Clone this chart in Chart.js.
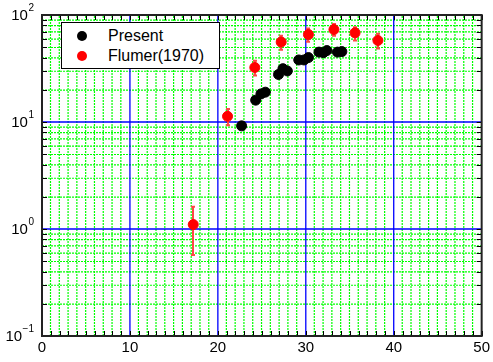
<!DOCTYPE html>
<html>
<head>
<meta charset="utf-8">
<script src="https://cdn.jsdelivr.net/npm/chart.js@4"></script>
<style>
  html, body { margin:0; padding:0; background:#fff; }
  #wrap { position:relative; width:493px; height:362px; }
  #legend { position:absolute; left:61px; top:22px; width:157px; height:45px; background:#fff; border:1px solid #000;
    font-family:"Liberation Sans", Arial, sans-serif; font-size:16px; color:#000; }
  #legend div { position:absolute; left:46px; line-height:20px; }
  #legend span { position:absolute; left:-31px; top:5px; width:10px; height:10px; border-radius:50%; }
</style>
</head>
<body>
<div id="wrap">
  <canvas id="chart" width="493" height="362"></canvas>
  <div id="legend">
    <div style="top:3px"><span style="background:#000"></span>Present</div>
    <div style="top:23px"><span style="background:#f00"></span>Flumer(1970)</div>
  </div>
</div>
<script>
// data
const presentX = [22.7, 24.3, 24.9, 25.4, 26.9, 27.4, 27.9, 29.2, 29.8, 30.3, 31.5, 32.0, 32.4, 33.6, 34.1];
const presentY = [9.2, 16.0, 18.3, 19.0, 27.8, 31.5, 30.0, 38.0, 38.0, 40.0, 45.0, 44.5, 46.5, 45.0, 45.5];

const flumerX = [17.2, 21.1, 24.2, 27.2, 30.3, 33.2, 35.6, 38.2];
const flumerY = [1.1, 11.3, 32.3, 55.9, 65.7, 73.1, 68.1, 57.8];
const flumerLo = [0.57, 9.3, 27.2, 47.4, 56.2, 63.9, 57.8, 48.7];
const flumerHi = [1.61, 13.2, 37.3, 63.9, 74.7, 82.6, 76.9, 66.7];

const xTickLabels = [0, 10, 20, 30, 40, 50];
const yTickExps = [-1, 0, 1, 2];
const yMinor = [2, 3, 4, 5, 6, 7, 8, 9];

const toPts = (xs, ys) => xs.map((x, i) => ({ x, y: ys[i] }));
function isMajorY(v){ return yTickExps.some(e => Math.abs(Math.pow(10, e) - v) < 1e-9); }

// grid (green dotted minor, blue major), error bars, inward ticks, frame, y labels
const decor = {
  id: 'decor',
  beforeDatasetsDraw(chart){
    const ctx = chart.ctx, xs = chart.scales.x, ys = chart.scales.y, a = chart.chartArea;
    ctx.save();
    ctx.lineWidth = 1.2;
    ctx.strokeStyle = '#00ff00';
    ctx.setLineDash([2, 1]);
    ctx.beginPath();
    xs.ticks.forEach(t => {
      if(t.value % 10 === 0) return;
      const px = xs.getPixelForValue(t.value) - 0.3;
      ctx.moveTo(px, a.bottom); ctx.lineTo(px, a.top);
    });
    ys.ticks.forEach(t => {
      if(isMajorY(t.value)) return;
      const py = ys.getPixelForValue(t.value) + 0.3;
      ctx.moveTo(a.left, py); ctx.lineTo(a.right, py);
    });
    ctx.stroke();

    ctx.setLineDash([]);
    ctx.strokeStyle = '#0000ff';
    ctx.lineWidth = 1.3;
    ctx.beginPath();
    xs.ticks.forEach(t => {
      if(t.value % 10 !== 0 || t.value === 0 || t.value === 50) return;
      const px = xs.getPixelForValue(t.value);
      ctx.moveTo(px, a.top); ctx.lineTo(px, a.bottom);
    });
    ys.ticks.forEach(t => {
      if(!isMajorY(t.value) || t.value < 0.5 || t.value > 50) return;
      const py = ys.getPixelForValue(t.value);
      ctx.moveTo(a.left, py); ctx.lineTo(a.right, py);
    });
    ctx.stroke();

    ctx.strokeStyle = 'rgb(255,70,70)';
    ctx.lineWidth = 2;
    flumerX.forEach((x, i) => {
      const px = Math.round(xs.getPixelForValue(x));
      const t = ys.getPixelForValue(flumerHi[i]), b = ys.getPixelForValue(flumerLo[i]);
      ctx.beginPath();
      ctx.moveTo(px, t); ctx.lineTo(px, b);
      ctx.moveTo(px - 2, t); ctx.lineTo(px + 2, t);
      ctx.moveTo(px - 2, b); ctx.lineTo(px + 2, b);
      ctx.stroke();
    });
    ctx.restore();
  },
  afterDraw(chart){
    const ctx = chart.ctx, xs = chart.scales.x, ys = chart.scales.y, a = chart.chartArea;
    ctx.save();
    ctx.strokeStyle = '#000';
    ctx.lineWidth = 1;
    ctx.beginPath();
    xs.ticks.forEach(t => {
      const px = Math.round(xs.getPixelForValue(t.value)) + 0.5;
      ctx.moveTo(px, a.bottom); ctx.lineTo(px, a.bottom - 5);
      ctx.moveTo(px, a.top); ctx.lineTo(px, a.top + 5);
    });
    ys.ticks.forEach(t => {
      const py = Math.round(ys.getPixelForValue(t.value)) + 0.5;
      ctx.moveTo(a.left, py); ctx.lineTo(a.left + 5, py);
      ctx.moveTo(a.right, py); ctx.lineTo(a.right - 5, py);
    });
    ctx.stroke();
    ctx.strokeStyle = '#222';
    ctx.lineWidth = 2;
    ctx.strokeRect(a.left, a.top, a.right - a.left, a.bottom - a.top);
    // y labels 10^n
    ctx.fillStyle = '#000';
    ctx.textBaseline = 'middle';
    yTickExps.forEach(e => {
      const py = ys.getPixelForValue(Math.pow(10, e));
      const sup = String(e).replace('-', '\u2212');
      ctx.font = '10px "Liberation Sans", Arial, sans-serif';
      const sw = ctx.measureText(sup).width;
      ctx.textAlign = 'left';
      const supX = a.left - 8 - sw;
      ctx.fillText(sup, supX, py - 7);
      ctx.font = '15px "Liberation Sans", Arial, sans-serif';
      ctx.textAlign = 'right';
      ctx.fillText('10', supX - 0.5, py + 1);
    });
    ctx.restore();
  }
};

new Chart(document.getElementById('chart'), {
  type: 'scatter',
  data: {
    datasets: [
      { label: 'Present', data: toPts(presentX, presentY), backgroundColor: '#000', borderColor: '#000', pointRadius: 5, pointHoverRadius: 5 },
      { label: 'Flumer(1970)', data: toPts(flumerX, flumerY), backgroundColor: '#f00', borderColor: '#f00', pointRadius: 5, pointHoverRadius: 5 }
    ]
  },
  options: {
    responsive: false,
    animation: false,
    events: [],
    layout: { padding: { left: 42, right: 10, top: 15, bottom: 2 } },
    plugins: { legend: { display: false }, tooltip: { enabled: false } },
    scales: {
      x: {
        type: 'linear', min: 0, max: 50,
        afterBuildTicks: s => { s.ticks = []; for(let v = 0; v <= 50; v++) s.ticks.push({ value: v }); },
        ticks: {
          autoSkip: false, maxRotation: 0, padding: 3, color: '#000',
          font: { family: '"Liberation Sans", Arial, sans-serif', size: 15 },
          callback: v => xTickLabels.includes(v) ? String(v) : ''
        },
        grid: { display: false, drawTicks: false },
        border: { display: false }
      },
      y: {
        type: 'logarithmic', min: 0.1, max: 100,
        afterBuildTicks: s => {
          s.ticks = [];
          yTickExps.forEach(e => {
            s.ticks.push({ value: Math.pow(10, e), major: true });
            if(e < 2) yMinor.forEach(m => s.ticks.push({ value: m * Math.pow(10, e) }));
          });
        },
        ticks: { display: false },
        grid: { display: false, drawTicks: false },
        border: { display: false }
      }
    }
  },
  plugins: [decor]
});
</script>
</body>
</html>
